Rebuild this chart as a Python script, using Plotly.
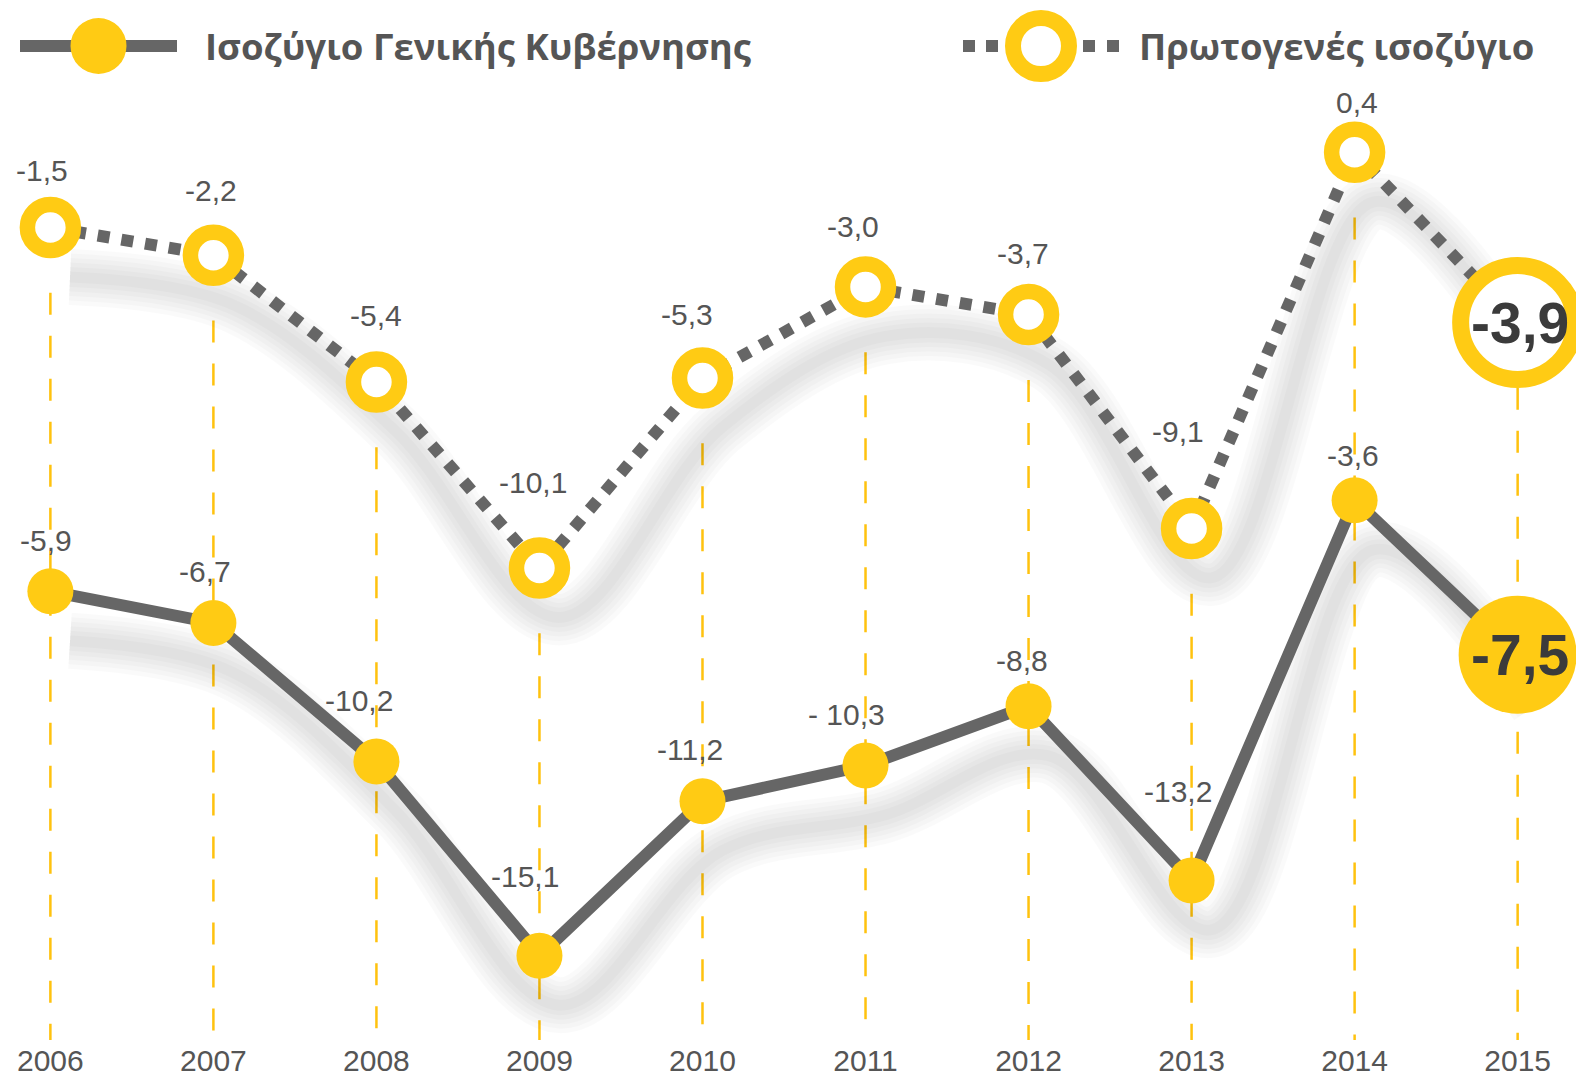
import plotly.graph_objects as go

# ---------------- data ----------------
years = [2006, 2007, 2008, 2009, 2010, 2011, 2012, 2013, 2014, 2015]
general_balance = [-5.9, -6.7, -10.2, -15.1, -11.2, -10.3, -8.8, -13.2, -3.6, -7.5]
primary_balance = [-1.5, -2.2, -5.4, -10.1, -5.3, -3.0, -3.7, -9.1, 0.4, -3.9]
general_labels = ["-5,9", "-6,7", "-10,2", "-15,1", "-11,2", "- 10,3", "-8,8", "-13,2", "-3,6", "-7,5"]
primary_labels = ["-1,5", "-2,2", "-5,4", "-10,1", "-5,3", "-3,0", "-3,7", "-9,1", "0,4", "-3,9"]
year_labels = [str(y) for y in years]
name_general = "Ισοζύγιο Γενικής Κυβέρνησης"
name_primary = "Πρωτογενές ισοζύγιο"

# ---------------- style ----------------
W, H = 1576, 1080
BOTTOM = 40
PLOT_H = H - BOTTOM
YELLOW = "#FFCB14"
VLINE = "#FFC20E"
GREY = "#666666"
TXT = "#555555"
DARK = "#3b3b3b"
NARROW = "Liberation Sans, Arial, sans-serif"
LEG_FONT = "Open Sans, Noto Sans, sans-serif"

X_RANGE = [2005.691, 2015.358]
Y_GEN_RANGE = [-17.23, 9.03]
Y_PRI_RANGE = [-22.02, 4.245]

# label offsets in pixels (dx, dy up)
gen_off = [(-4, 51), (-8, 51), (-17, 61), (-14, 79), (-12, 52), (-19, 51), (-7, 46), (-14, 89), (-2, 45), (0, 0)]
pri_off = [(-8, 57), (-2, 65), (0, 66), (-6, 86), (-15, 63), (-13, 60), (-6, 61), (-14, 97), (2, 50), (0, 0)]

n = len(years)
last = n - 1

fig = go.Figure()

# ---- shadows ----
SH_DX, SH_DY = 0.12, 1.25
for vals, yax in ((primary_balance, "y2"), (general_balance, "y")):
    for w in (56, 47, 38, 29, 20, 11):
        fig.add_trace(go.Scatter(
            x=[x + SH_DX for x in years], y=[v - SH_DY for v in vals], yaxis=yax,
            mode="lines", line=dict(color="rgba(0,0,0,0.019)", width=w, shape="spline", smoothing=1.0),
            hoverinfo="skip", showlegend=False))

# ---- main series ----
fig.add_trace(go.Scatter(
    x=years, y=general_balance, yaxis="y", name=name_general, mode="lines+markers",
    line=dict(color=GREY, width=12),
    marker=dict(color=YELLOW, opacity=1, size=[46 if i < last else 118 for i in range(n)], line=dict(width=0)),
    showlegend=False))
fig.add_trace(go.Scatter(
    x=years, y=primary_balance, yaxis="y2", name=name_primary, mode="lines+markers",
    line=dict(color=GREY, width=12, dash="dot"),
    marker=dict(color="white", opacity=1, size=[46 if i < last else 114 for i in range(n)],
                line=dict(color=YELLOW, width=[15.5 if i < last else 17 for i in range(n)])),
    showlegend=False))

# ---- vertical dashed guides ----
shapes = []
for x, v in zip(years, primary_balance):
    shapes.append(dict(type="line", xref="x", yref="y2", x0=x, x1=x, y0=v - 1.65, y1=Y_PRI_RANGE[0],
                       line=dict(color=VLINE, width=2.5, dash="22px,21px"), layer="below"))

# ---- value labels ----
annotations = []
for i in range(n):
    big = i == last
    for vals, labs, offs, yref in ((general_balance, general_labels, gen_off, "y"),
                                   (primary_balance, primary_labels, pri_off, "y2")):
        annotations.append(dict(
            x=years[i], y=vals[i], xref="x", yref=yref, text=("<b>%s</b>" % labs[i]) if big else labs[i],
            showarrow=False, xshift=offs[i][0] + (2 if big else 0), yshift=offs[i][1],
            font=dict(family=NARROW, size=57 if big else 30, color=DARK if big else TXT)))

# ---- legend (drawn) ----
def px(xp):
    return xp / W

def py(yp):
    return 1 - yp / PLOT_H

LEG_Y = 46
shapes.append(dict(type="rect", xref="paper", yref="paper", x0=px(20), x1=px(177),
                   y0=py(LEG_Y + 6), y1=py(LEG_Y - 6), fillcolor=GREY, line=dict(width=0)))
shapes.append(dict(type="circle", xref="paper", yref="paper", xsizemode="pixel", ysizemode="pixel",
                   xanchor=px(98.5), yanchor=py(LEG_Y), x0=-28, x1=28, y0=-28, y1=28,
                   fillcolor=YELLOW, line=dict(width=0)))
for sx in (963, 986, 1083, 1107):
    shapes.append(dict(type="rect", xref="paper", yref="paper", x0=px(sx), x1=px(sx + 12),
                       y0=py(LEG_Y + 6), y1=py(LEG_Y - 6), fillcolor=GREY, line=dict(width=0)))
shapes.append(dict(type="circle", xref="paper", yref="paper", xsizemode="pixel", ysizemode="pixel",
                   xanchor=px(1041), yanchor=py(LEG_Y), x0=-28, x1=28, y0=-28, y1=28,
                   fillcolor="white", line=dict(color=YELLOW, width=16)))
annotations.append(dict(x=px(203), y=py(LEG_Y), xref="paper", yref="paper", xanchor="left", yanchor="middle",
                        text=name_general, showarrow=False,
                        font=dict(family=LEG_FONT, size=36.5, color=TXT, weight="bold")))
annotations.append(dict(x=px(1137), y=py(LEG_Y), xref="paper", yref="paper", xanchor="left", yanchor="middle",
                        text=name_primary, showarrow=False,
                        font=dict(family=LEG_FONT, size=36.5, color=TXT, weight="bold")))

fig.update_layout(
    width=W, height=H, margin=dict(l=0, r=0, t=0, b=BOTTOM, pad=0),
    paper_bgcolor="white", plot_bgcolor="white",
    xaxis=dict(range=X_RANGE, tickvals=years, ticktext=year_labels, showgrid=False, zeroline=False,
               showline=False, ticks="", tickfont=dict(family=NARROW, size=30, color=TXT)),
    yaxis=dict(range=Y_GEN_RANGE, visible=False),
    yaxis2=dict(range=Y_PRI_RANGE, visible=False, overlaying="y"),
    shapes=shapes, annotations=annotations, showlegend=False,
)

fig.write_html("out.html")
